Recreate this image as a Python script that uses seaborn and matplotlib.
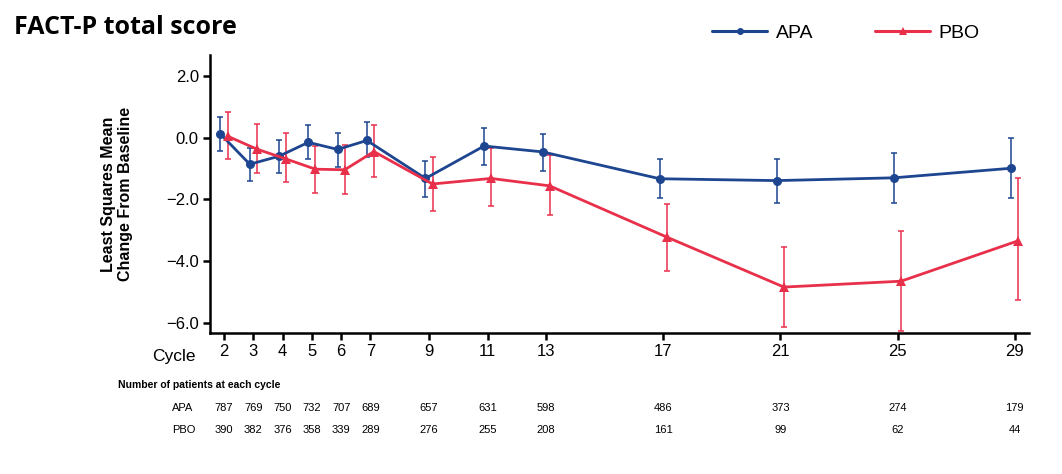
import matplotlib
matplotlib.use("Agg")
import matplotlib.pyplot as plt
import matplotlib.transforms as mtrans
import seaborn as sns
import pandas as pd
import numpy as np

cycles = [2, 3, 4, 5, 6, 7, 9, 11, 13, 17, 21, 25, 29]
apa_mean = [0.12, -0.86, -0.60, -0.15, -0.38, -0.09, -1.32, -0.27, -0.46, -1.33, -1.39, -1.30, -0.99]
apa_hi = [0.68, -0.32, -0.06, 0.42, 0.16, 0.52, -0.74, 0.32, 0.13, -0.68, -0.68, -0.49, 0.00]
apa_lo = [-0.42, -1.39, -1.14, -0.68, -0.95, -0.62, -1.91, -0.88, -1.07, -1.95, -2.11, -2.11, -1.95]
pbo_mean = [0.05, -0.37, -0.69, -1.02, -1.04, -0.45, -1.50, -1.32, -1.56, -3.22, -4.84, -4.65, -3.34]
pbo_hi = [0.84, 0.43, 0.14, -0.27, -0.24, 0.42, -0.62, -0.35, -0.56, -2.14, -3.54, -3.02, -1.30]
pbo_lo = [-0.70, -1.14, -1.43, -1.78, -1.83, -1.26, -2.38, -2.22, -2.50, -4.31, -6.13, -6.27, -5.25]
apa_n = [787, 769, 750, 732, 707, 689, 657, 631, 598, 486, 373, 274, 179]
pbo_n = [390, 382, 376, 358, 339, 289, 276, 255, 208, 161, 99, 62, 44]
yticks = [2.0, 0.0, -2.0, -4.0, -6.0]

BLUE = "#1d4590"
RED = "#e8304b"
dodge = 0.12

sns.set_theme(style="white")
plt.rcParams['font.family'] = ['Liberation Sans', 'DejaVu Sans']
plt.rcParams['text.color'] = 'black'
plt.rcParams['axes.labelcolor'] = 'black'

fig = plt.figure(figsize=(10.62, 4.74), dpi=100)
ax = fig.add_axes([0.1977, 0.298, 0.9692 - 0.1977, 0.884 - 0.298])

c = np.array(cycles, dtype=float)
df = pd.DataFrame({
    "x": np.concatenate([c - dodge, c + dodge]),
    "y": apa_mean + pbo_mean,
    "arm": ["APA"] * len(cycles) + ["PBO"] * len(cycles),
})

# error bars
for xs, m, hi, lo, col in [(c - dodge, apa_mean, apa_hi, apa_lo, BLUE),
                           (c + dodge, pbo_mean, pbo_hi, pbo_lo, RED)]:
    m = np.array(m); hi = np.array(hi); lo = np.array(lo)
    ax.errorbar(xs, m, yerr=[m - lo, hi - m], fmt="none", ecolor=col,
                elinewidth=1.1, capsize=2.5, capthick=1.1, zorder=2)

sns.lineplot(data=df, x="x", y="y", hue="arm", style="arm",
             palette={"APA": BLUE, "PBO": RED},
             markers={"APA": "o", "PBO": "^"}, dashes=False,
             linewidth=2.0, markersize=6.5, markeredgewidth=0,
             ax=ax, legend=False, zorder=3, sort=False)

ax.set_xlim(1.52, 29.5)
ax.set_ylim(-6.32, 2.68)
ax.set_xticks(cycles)
ax.set_xticklabels([str(v) for v in cycles])
ax.set_yticks(yticks)
ax.set_yticklabels([f"{v:.1f}".replace("-", "\u2212") for v in yticks])
ax.set_xlabel("")
ax.set_ylabel("Least Squares Mean\nChange From Baseline", fontsize=11.5, fontweight="bold",
              labelpad=24, linespacing=1.1, color="black")
for s in ["top", "right"]:
    ax.spines[s].set_visible(False)
for s in ["left", "bottom"]:
    ax.spines[s].set_color("black")
    ax.spines[s].set_linewidth(1.8)
ax.tick_params(axis="both", which="major", direction="out", length=5, width=1.8,
               color="black", labelsize=12, labelcolor="black", bottom=True, left=True)
ax.tick_params(axis="x", pad=3)
ax.tick_params(axis="y", pad=3)
ax.grid(False)

# "Cycle" label
fig.text(152 / 1062, 1 - 356 / 474, "Cycle", fontsize=12.5, ha="left", va="center")

# title
fig.text(14 / 1062, 1 - 28 / 474, "FACT-P total score", fontsize=18, fontweight="bold",
         family=["Open Sans", "DejaVu Sans"], ha="left", va="center", color="black")

# legend
from matplotlib.lines import Line2D
handles = [Line2D([], [], color=BLUE, lw=2.2, marker="o", markersize=5, markeredgewidth=0),
           Line2D([], [], color=RED, lw=2.2, marker="^", markersize=6, markeredgewidth=0)]
fig.legend(handles, ["APA", "PBO"], loc="center", bbox_to_anchor=(846 / 1062, 1 - 33 / 474),
           ncol=2, frameon=False, fontsize=14, handlelength=2.8, columnspacing=3.2,
           handletextpad=0.45, labelcolor="black")

# patients table
fig.text(118 / 1062, 1 - 385 / 474, "Number of patients at each cycle", fontsize=7.5,
         fontweight="bold", ha="left", va="center")
trans = mtrans.blended_transform_factory(ax.transData, fig.transFigure)
for label, ns, yy in [("APA", apa_n, 408), ("PBO", pbo_n, 430)]:
    fig.text(172 / 1062, 1 - yy / 474, label, fontsize=8, ha="left", va="center")
    for xv, n in zip(cycles, ns):
        ax.text(xv, 1 - yy / 474, str(n), transform=trans, fontsize=8,
                ha="center", va="center", clip_on=False)

fig.savefig("out.png", dpi=100)
